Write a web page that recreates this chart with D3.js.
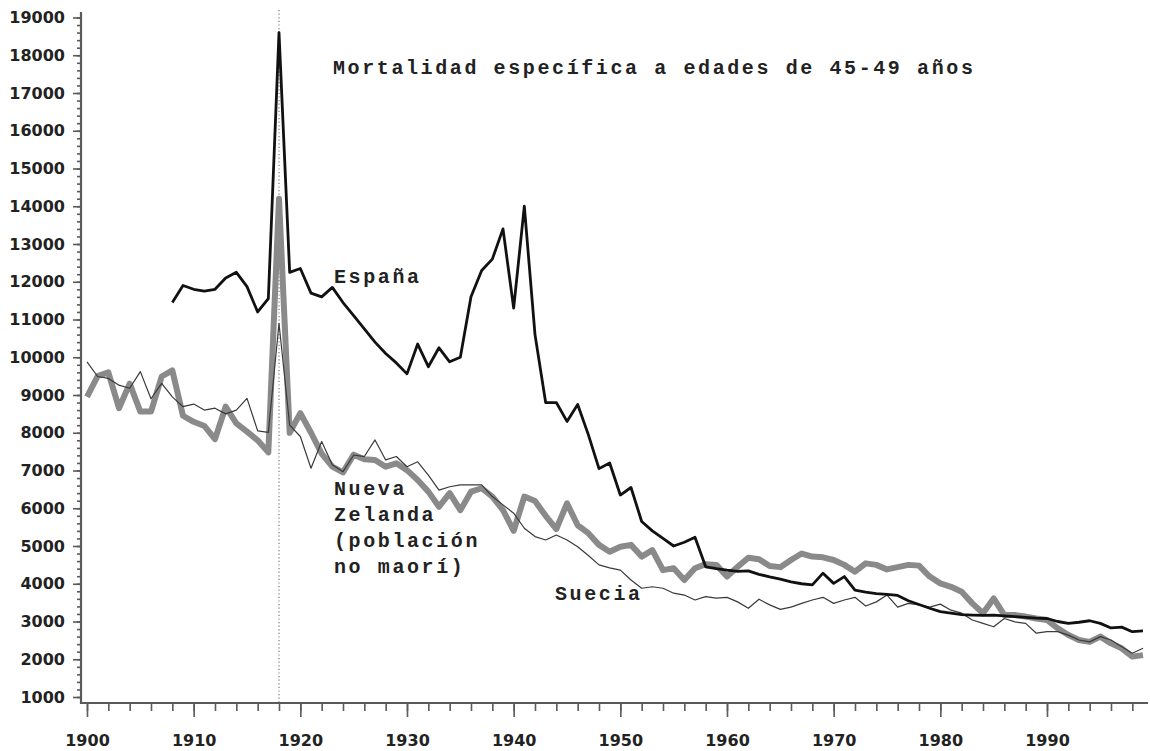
<!DOCTYPE html>
<html><head><meta charset="utf-8">
<script src="https://cdn.jsdelivr.net/npm/d3@7"></script>
<style>
html,body{margin:0;padding:0;background:#fff;}
svg{display:block;}
</style>
</head><body>
<svg id="c" width="1150" height="751"></svg>
<script>
const years = d3.range(1900, 2000);
const espanaStart = 1908;
const espana = [11450,11900,11800,11750,11800,12100,12250,11870,11200,11550,
 18600,12250,12350,11700,11600,11850,11450,11100,10750,10400,
 10100,9850,9560,10350,9750,10250,9880,10000,11600,12300,
 12600,13400,11300,14000,10600,8800,8800,8300,8750,7950,
 7050,7200,6350,6550,5650,5400,5200,5000,5100,5230,
 4450,4400,4360,4330,4340,4250,4180,4120,4050,4000,
 3970,4280,4010,4190,3830,3780,3740,3720,3690,3550,
 3450,3350,3260,3220,3180,3170,3160,3170,3150,3130,
 3110,3090,3080,3000,2950,2980,3020,2950,2830,2850,
 2730,2750];
const nuevaZelanda = [8950,9500,9600,8650,9300,8560,8560,9490,9650,8450,
 8290,8180,7830,8690,8250,8030,7800,7480,14200,8000,
 8520,8000,7450,7100,6950,7420,7300,7280,7100,7190,
 7010,6750,6440,6040,6400,5950,6440,6530,6310,5950,
 5400,6310,6190,5800,5450,6130,5550,5340,5030,4850,
 4980,5030,4720,4890,4360,4410,4100,4410,4520,4500,
 4190,4450,4690,4650,4470,4440,4630,4800,4720,4700,
 4630,4500,4320,4540,4500,4380,4440,4500,4480,4190,
 4010,3920,3790,3480,3220,3610,3170,3170,3130,3080,
 3040,2820,2640,2510,2460,2600,2420,2290,2070,2110];
const suecia = [9880,9490,9440,9260,9180,9620,8900,9310,8950,8690,
 8760,8600,8650,8500,8600,8910,8050,8010,10900,8200,
 7900,7060,7770,7150,6970,7410,7370,7810,7280,7370,
 7100,7230,6880,6480,6570,6620,6620,6620,6310,6090,
 5870,5470,5250,5160,5290,5160,4980,4750,4500,4420,
 4360,4100,3880,3920,3880,3750,3700,3570,3660,3620,
 3640,3520,3350,3590,3440,3320,3380,3480,3570,3640,
 3480,3570,3640,3410,3520,3700,3380,3480,3440,3380,
 3460,3300,3220,3040,2950,2860,3080,2990,2950,2690,
 2730,2730,2640,2510,2460,2600,2510,2330,2160,2290];
const yTicks = d3.range(1000, 19001, 1000);
const xTicks = d3.range(1900, 1991, 10);
const titleText = "Mortalidad específica a edades de 45-49 años";
const labelEspana = ["España"];
const labelNZ = ["Nueva", "Zelanda", "(población", "no maorí)"];
const labelSuecia = ["Suecia"];

const svg = d3.select("#c");
const x = d3.scaleLinear().domain([1900, 1999]).range([87, 1143]);
const y = d3.scaleLinear().domain([1000, 19000]).range([697, 17.5]);

const axisColor = "#5a5a5a";
const labelFont = "'DejaVu Sans', sans-serif";
const monoFont = "'Liberation Mono', 'Courier New', monospace";

// dotted line at 1918
svg.append("line")
  .attr("x1", x(1918)).attr("x2", x(1918))
  .attr("y1", 10).attr("y2", 703)
  .attr("stroke", "#777").attr("stroke-width", 1.2)
  .attr("stroke-dasharray", "1.2,2.4");

// Y axis minor ticks
const yMinor = svg.append("g").attr("transform", "translate(81,0)")
  .call(d3.axisLeft(y).tickValues(d3.range(1000, 19001, 200)).tickSize(4).tickFormat(""));
const yMajor = svg.append("g").attr("transform", "translate(81,0)")
  .call(d3.axisLeft(y).tickValues(yTicks).tickSize(8).tickPadding(8).tickFormat(d3.format("d")));
[yMinor, yMajor].forEach(g => {
  g.select(".domain").remove();
  g.selectAll(".tick line").attr("stroke", axisColor).attr("stroke-width", 1.6);
});
yMajor.selectAll(".tick text").attr("font-family", labelFont).attr("font-weight", "bold")
  .attr("font-size", 16).attr("fill", "#222");
svg.append("line").attr("x1", 81).attr("x2", 81).attr("y1", 12).attr("y2", 704)
  .attr("stroke", axisColor).attr("stroke-width", 2.2);

// X axis
const xMinor = svg.append("g").attr("transform", "translate(0,703)")
  .call(d3.axisBottom(x).tickValues(d3.range(1900, 2000, 2)).tickSize(8).tickFormat(""));
const xMajor = svg.append("g").attr("transform", "translate(0,703)")
  .call(d3.axisBottom(x).tickValues(xTicks).tickSize(14).tickPadding(18).tickFormat(d3.format("d")));
[xMinor, xMajor].forEach(g => {
  g.select(".domain").remove();
  g.selectAll(".tick line").attr("stroke", axisColor).attr("stroke-width", 1.6);
});
xMajor.selectAll(".tick text").attr("font-family", labelFont).attr("font-weight", "bold")
  .attr("font-size", 16).attr("fill", "#222");
svg.append("line").attr("x1", 80).attr("x2", 1148).attr("y1", 703).attr("y2", 703)
  .attr("stroke", axisColor).attr("stroke-width", 2.2);

const line = d3.line().x(d => x(d[0])).y(d => y(d[1]));
const nzData = years.map((yr, i) => [yr, nuevaZelanda[i]]);
const seData = years.map((yr, i) => [yr, suecia[i]]);
const esData = espana.map((v, i) => [espanaStart + i, v]);

svg.append("path").datum(nzData).attr("d", line).attr("fill", "none")
  .attr("stroke", "#8a8a8a").attr("stroke-width", 6).attr("stroke-linejoin", "round");
svg.append("path").datum(seData).attr("d", line).attr("fill", "none")
  .attr("stroke", "#3a3a3a").attr("stroke-width", 1.2).attr("stroke-linejoin", "round");
svg.append("path").datum(esData).attr("d", line).attr("fill", "none")
  .attr("stroke", "#111").attr("stroke-width", 2.8).attr("stroke-linejoin", "round");

function monoText(txt, tx, ty) {
  svg.append("text").attr("x", tx).attr("y", ty).text(txt)
    .attr("font-family", monoFont).attr("font-weight", "bold")
    .attr("font-size", 20).attr("letter-spacing", 2.6).attr("fill", "#222");
}
monoText(titleText, 333, 74);
labelEspana.forEach((t, i) => monoText(t, 334, 283 + i * 26));
labelNZ.forEach((t, i) => monoText(t, 334, 495 + i * 26));
labelSuecia.forEach((t, i) => monoText(t, 555, 600 + i * 26));
</script>
</body></html>
